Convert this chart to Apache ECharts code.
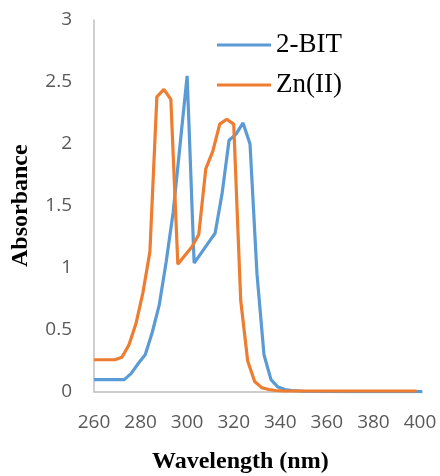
<!DOCTYPE html>
<html><head><meta charset="utf-8">
<script src="https://cdn.jsdelivr.net/npm/echarts@6/dist/echarts.min.js"></script>
<style>html,body{margin:0;padding:0;background:#fff}#c{width:440px;height:476px}</style>
</head><body><div id="c"></div>
<script>
var seriesNames = ['2-BIT', 'Zn(II)'];
var xTicks = [260, 400, 20];
var yTicks = [0, 3, 0.5];
var bitX = [260, 264, 268, 273, 276, 279, 282, 285, 288, 291, 294, 297, 300, 303, 306, 309, 312, 315, 318, 321, 324, 327, 330, 333, 336, 339, 342, 345, 350, 360, 370, 380, 390, 401];
var bitY = [0.1, 0.1, 0.1, 0.1, 0.15, 0.23, 0.30, 0.48, 0.70, 1.05, 1.45, 2.0, 2.55, 1.04, 1.12, 1.2, 1.28, 1.6, 2.03, 2.08, 2.17, 2.0, 0.95, 0.3, 0.1, 0.04, 0.02, 0.012, 0.006, 0.004, 0.003, 0.003, 0.003, 0.003];
var znX = [260, 264, 269, 272, 275, 278, 281, 284, 287, 290, 293, 296, 299, 302, 305, 308, 311, 314, 317, 320, 323, 326, 329, 332, 335, 338, 341, 350, 360, 370, 380, 390, 398.5];
var znY = [0.26, 0.26, 0.26, 0.28, 0.38, 0.55, 0.8, 1.13, 2.38, 2.44, 2.36, 1.03, 1.1, 1.17, 1.27, 1.8, 1.94, 2.16, 2.2, 2.16, 0.74, 0.25, 0.085, 0.035, 0.02, 0.012, 0.009, 0.008, 0.008, 0.008, 0.008, 0.008, 0.008];

function pairs(xs, ys) { return xs.map(function (x, i) { return [x, ys[i]]; }); }

var chart = echarts.init(document.getElementById('c'), null, {renderer: 'canvas'});
chart.setOption({
  animation: false,
  color: ['#5B9BD5', '#ED7D31'],
  grid: {left: 94, right: 20, top: 20, bottom: 84, containLabel: false},
  legend: {
    orient: 'vertical', left: 217, top: 31, padding: 0, itemGap: 12,
    icon: 'rect', itemWidth: 54, itemHeight: 3,
    textStyle: {fontFamily: 'Liberation Serif', fontSize: 27, color: '#000', lineHeight: 28},
    data: seriesNames
  },
  xAxis: {
    type: 'value', min: xTicks[0], max: xTicks[1], interval: xTicks[2],
    axisLine: {lineStyle: {color: '#bfbfbf', width: 1.5}},
    axisTick: {show: false}, splitLine: {show: false},
    axisLabel: {margin: 21, fontFamily: 'Open Sans', fontSize: 19, color: '#595959'}
  },
  yAxis: {
    type: 'value', min: yTicks[0], max: yTicks[1], interval: yTicks[2],
    axisLine: {show: true, lineStyle: {color: '#bfbfbf', width: 1.5}},
    axisTick: {show: false}, splitLine: {show: false},
    axisLabel: {margin: 22, fontFamily: 'Open Sans', fontSize: 19, color: '#595959'}
  },
  graphic: [
    {type: 'text', left: 152, top: 450, style: {text: 'Wavelength (nm)', font: 'bold 24px "Liberation Serif"', fill: '#000'}},
    {type: 'text', x: 9, y: 267, rotation: Math.PI / 2, style: {text: 'Absorbance', font: 'bold 24px "Liberation Serif"', fill: '#000', textVerticalAlign: 'top'}}
  ],
  series: [
    {name: seriesNames[0], type: 'line', data: pairs(bitX, bitY), showSymbol: false, symbol: 'none', lineStyle: {width: 3.2, color: '#5B9BD5'}, z: 2},
    {name: seriesNames[1], type: 'line', data: pairs(znX, znY), showSymbol: false, symbol: 'none', lineStyle: {width: 3.2, color: '#ED7D31'}, z: 3}
  ]
});
</script></body></html>
